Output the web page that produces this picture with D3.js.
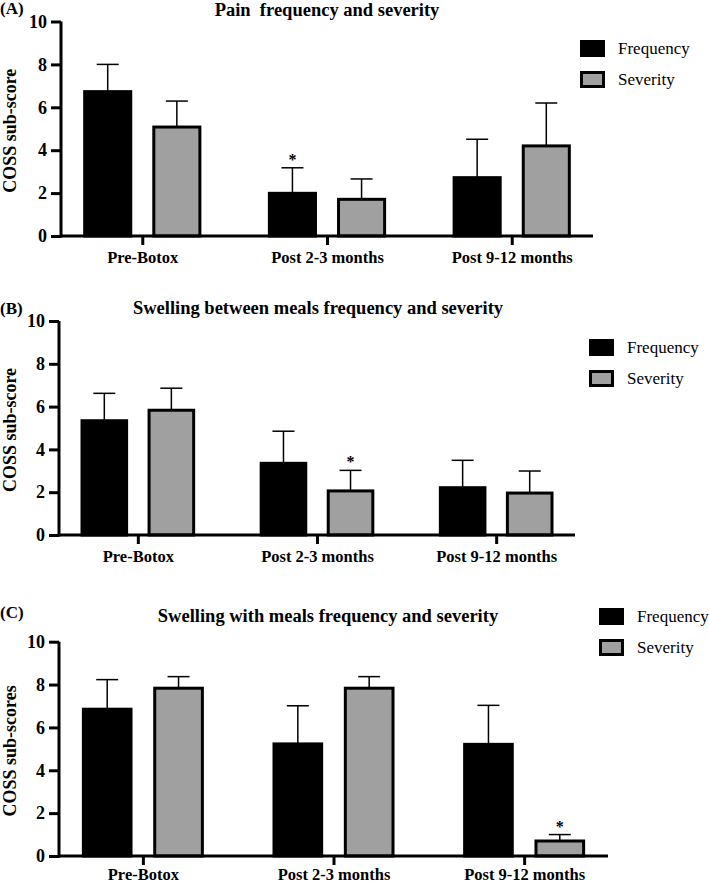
<!DOCTYPE html>
<html>
<head>
<meta charset="utf-8">
<script src="https://cdn.jsdelivr.net/npm/d3@7"></script>
<style>
  body { margin: 0; background: #fff; }
  svg text { font-family: "Liberation Serif", "Times New Roman", "DejaVu Serif", serif; }
</style>
</head>
<body>
<svg id="chart" width="709" height="883"></svg>
<script>
var categories = ["Pre-Botox", "Post 2-3 months", "Post 9-12 months"];
var seriesNames = ["Frequency", "Severity"];
var seriesColors = ["#000000", "#a0a0a0"];
var yTicks = [0, 2, 4, 6, 8, 10];

// (A) pain
var painFreq = [6.73, 1.99, 2.72];
var painFreqSD = [1.27, 1.19, 1.79];
var painSev = [5.08, 1.71, 4.20];
var painSevSD = [1.21, 0.95, 2.00];

// (B) swelling between meals
var betweenFreq = [5.34, 3.35, 2.21];
var betweenFreqSD = [1.28, 1.50, 1.28];
var betweenSev = [5.83, 2.06, 1.96];
var betweenSevSD = [1.03, 0.96, 1.03];

// (C) swelling with meals
var withFreq = [6.85, 5.23, 5.21];
var withFreqSD = [1.38, 1.78, 1.82];
var withSev = [7.83, 7.83, 0.70];
var withSevSD = [0.54, 0.54, 0.30];

// significance marks: [series index, category index]
var painStars = [[0, 1]];
var betweenStars = [[1, 1]];
var withStars = [[1, 2]];

var FONT = "'Liberation Serif', 'Times New Roman', 'DejaVu Serif', serif";
var svg = d3.select("#chart");

function drawPanel(p)
{
  var g = svg.append("g");

  var y = d3.scaleLinear().domain([0, 10]).range([p.y0, p.y10]);
  var x0 = d3.scalePoint().domain(categories).range([p.left, p.right]).padding(0.44);
  var step = x0.step();
  var x1 = d3.scaleBand().domain(seriesNames)
              .range([-0.32 * step, 0.32 * step]).paddingInner(0.29);

  var rows = [];
  categories.forEach(function(c, i) {
    rows.push({cat: c, s: 0, v: p.freq[i], sd: p.freqSD[i]});
    rows.push({cat: c, s: 1, v: p.sev[i], sd: p.sevSD[i]});
  });

  function cx(d) { return x0(d.cat) + x1(seriesNames[d.s]) + x1.bandwidth()/2; }

  // error bars (upper only)
  var eb = g.selectAll(".err").data(rows).enter().append("g").attr("class", "err");
  eb.append("line")
    .attr("x1", cx).attr("x2", cx)
    .attr("y1", function(d) { return y(d.v); })
    .attr("y2", function(d) { return y(d.v + d.sd); })
    .attr("stroke", "#000").attr("stroke-width", 1.5);
  eb.append("line")
    .attr("x1", function(d) { return cx(d) - 11; })
    .attr("x2", function(d) { return cx(d) + 11; })
    .attr("y1", function(d) { return y(d.v + d.sd); })
    .attr("y2", function(d) { return y(d.v + d.sd); })
    .attr("stroke", "#000").attr("stroke-width", 1.5);

  // bars
  g.selectAll(".bar").data(rows).enter().append("rect")
    .attr("class", "bar")
    .attr("x", function(d) { return x0(d.cat) + x1(seriesNames[d.s]) + 1.5; })
    .attr("width", x1.bandwidth() - 3)
    .attr("y", function(d) { return y(d.v); })
    .attr("height", function(d) { return y(0) - y(d.v); })
    .attr("fill", function(d) { return seriesColors[d.s]; })
    .attr("stroke", "#000").attr("stroke-width", 3);

  // stars
  p.stars.forEach(function(st) {
    var d = rows[st[1] * 2 + st[0]];
    g.append("text")
      .attr("x", cx(d))
      .attr("y", y(d.v + d.sd) - 3)
      .attr("text-anchor", "middle")
      .attr("font-size", "16px").attr("font-weight", "bold")
      .text("*");
  });

  // y axis
  var yAxis = d3.axisLeft(y).tickValues(yTicks).tickSize(10).tickPadding(4);
  var ya = g.append("g").attr("transform", "translate(" + p.left + ",0)").call(yAxis)
            .attr("font-family", FONT);
  ya.select(".domain").attr("stroke-width", 3).attr("d", "M0," + (p.y0 + 1.5) + "V" + p.y10);
  ya.selectAll(".tick line").attr("stroke-width", 3);
  ya.selectAll(".tick text").attr("font-size", "18px").attr("font-weight", "bold").attr("fill", "#000");

  // x axis
  var xAxis = d3.axisBottom(x0).tickSize(9).tickPadding(p.catPad);
  var xa = g.append("g").attr("transform", "translate(0," + p.y0 + ")").call(xAxis)
            .attr("font-family", FONT);
  xa.select(".domain").attr("stroke-width", 3).attr("d", "M" + p.left + ",0H" + p.right);
  xa.selectAll(".tick line").attr("stroke-width", 3);
  xa.selectAll(".tick text").attr("font-size", "16.5px").attr("font-weight", "bold").attr("fill", "#000");

  // y label
  g.append("text")
    .attr("transform", "translate(" + p.yLabelX + "," + ((p.y0 + p.y10) / 2 + 2) + ") rotate(-90)")
    .attr("text-anchor", "middle")
    .attr("font-size", "18px").attr("font-weight", "bold")
    .text(p.yLabel);

  // panel letter and title
  g.append("text").attr("x", 0).attr("y", p.letterY)
    .attr("font-size", "17px").attr("font-weight", "bold").text(p.letter);
  g.append("text").attr("x", p.titleX).attr("y", p.titleY)
    .attr("text-anchor", "middle")
    .attr("font-size", "18.5px").attr("font-weight", "bold")
    .style("white-space", "pre")
    .text(p.title);

  // legend
  var lg = g.append("g").attr("transform", "translate(" + p.legX + "," + p.legY + ")");
  seriesNames.forEach(function(s, i) {
    lg.append("rect")
      .attr("x", 1.5).attr("y", i * 31 + 1.5)
      .attr("width", 22).attr("height", 14)
      .attr("fill", seriesColors[i]).attr("stroke", "#000").attr("stroke-width", 3);
    lg.append("text")
      .attr("x", 38).attr("y", i * 31 + 14)
      .attr("font-size", "17px")
      .text(s);
  });
}

drawPanel({
  y0: 236, y10: 21.5, left: 61, right: 593,
  freq: painFreq, freqSD: painFreqSD, sev: painSev, sevSD: painSevSD, stars: painStars,
  yLabel: "COSS sub-score", yLabelX: 16, catPad: 6,
  letter: "(A)", letterY: 14, title: "Pain  frequency and severity", titleX: 327, titleY: 15.5,
  legX: 580, legY: 40
});

drawPanel({
  y0: 535, y10: 321, left: 59, right: 575,
  freq: betweenFreq, freqSD: betweenFreqSD, sev: betweenSev, sevSD: betweenSevSD, stars: betweenStars,
  yLabel: "COSS sub-score", yLabelX: 16, catPad: 6,
  letter: "(B)", letterY: 314, title: "Swelling between meals frequency and severity", titleX: 318, titleY: 314,
  legX: 589, legY: 339
});

drawPanel({
  y0: 856, y10: 641.7, left: 59, right: 608,
  freq: withFreq, freqSD: withFreqSD, sev: withSev, sevSD: withSevSD, stars: withStars,
  yLabel: "COSS sub-scores", yLabelX: 16, catPad: 3,
  letter: "(C)", letterY: 618, title: "Swelling with meals frequency and severity", titleX: 328, titleY: 622,
  legX: 599, legY: 608
});
</script>
</body>
</html>
